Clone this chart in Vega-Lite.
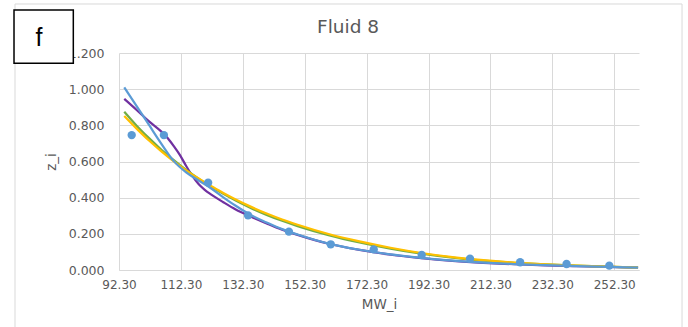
{
  "$schema": "https://vega.github.io/schema/vega-lite/v6.json",
  "width": 520,
  "height": 217,
  "autosize": {"type": "none"},
  "padding": {"left": 119, "top": 53, "right": 49, "bottom": 57},
  "background": "white",
  "config": {"view": {"stroke": null}, "font": "DejaVu Sans"},
  "title": {
    "text": "Fluid 8",
    "font": "DejaVu Sans",
    "fontSize": 18.5,
    "fontWeight": "normal",
    "color": "#595959",
    "anchor": "middle",
    "baseline": "alphabetic",
    "offset": -48,
    "dx": -31
  },
  "datasets": {
    "frame": [{"x": 58.7, "x2": 274.2, "y": 1.471, "y2": -0.4}],
    "curves": [
      {"s": "purple", "x": 94, "y": 0.946},
      {"s": "purple", "x": 98, "y": 0.885},
      {"s": "purple", "x": 102, "y": 0.822},
      {"s": "purple", "x": 106, "y": 0.765},
      {"s": "purple", "x": 108, "y": 0.73},
      {"s": "purple", "x": 110, "y": 0.685},
      {"s": "purple", "x": 112, "y": 0.635},
      {"s": "purple", "x": 114, "y": 0.575},
      {"s": "purple", "x": 116, "y": 0.52},
      {"s": "purple", "x": 118, "y": 0.475},
      {"s": "purple", "x": 120, "y": 0.443},
      {"s": "purple", "x": 122, "y": 0.418},
      {"s": "purple", "x": 126, "y": 0.375},
      {"s": "purple", "x": 130, "y": 0.335},
      {"s": "purple", "x": 135, "y": 0.295},
      {"s": "purple", "x": 140, "y": 0.258},
      {"s": "purple", "x": 145, "y": 0.223},
      {"s": "purple", "x": 150, "y": 0.194},
      {"s": "purple", "x": 160, "y": 0.145},
      {"s": "purple", "x": 170, "y": 0.111},
      {"s": "purple", "x": 180, "y": 0.085},
      {"s": "purple", "x": 190, "y": 0.066},
      {"s": "purple", "x": 200, "y": 0.051},
      {"s": "purple", "x": 210, "y": 0.04},
      {"s": "purple", "x": 220, "y": 0.032},
      {"s": "purple", "x": 230, "y": 0.026},
      {"s": "purple", "x": 240, "y": 0.021},
      {"s": "purple", "x": 250, "y": 0.017},
      {"s": "purple", "x": 260, "y": 0.013},
      {"s": "green", "x": 94, "y": 0.875},
      {"s": "green", "x": 98, "y": 0.798},
      {"s": "green", "x": 102, "y": 0.729},
      {"s": "green", "x": 106, "y": 0.665},
      {"s": "green", "x": 110, "y": 0.607},
      {"s": "green", "x": 114, "y": 0.553},
      {"s": "green", "x": 118, "y": 0.505},
      {"s": "green", "x": 122, "y": 0.461},
      {"s": "green", "x": 126, "y": 0.421},
      {"s": "green", "x": 130, "y": 0.384},
      {"s": "green", "x": 135, "y": 0.342},
      {"s": "green", "x": 140, "y": 0.305},
      {"s": "green", "x": 145, "y": 0.272},
      {"s": "green", "x": 150, "y": 0.243},
      {"s": "green", "x": 160, "y": 0.193},
      {"s": "green", "x": 170, "y": 0.152},
      {"s": "green", "x": 180, "y": 0.118},
      {"s": "green", "x": 190, "y": 0.09},
      {"s": "green", "x": 200, "y": 0.068},
      {"s": "green", "x": 210, "y": 0.052},
      {"s": "green", "x": 220, "y": 0.04},
      {"s": "green", "x": 230, "y": 0.031},
      {"s": "green", "x": 240, "y": 0.024},
      {"s": "green", "x": 250, "y": 0.018},
      {"s": "green", "x": 260, "y": 0.013},
      {"s": "yellow", "x": 94, "y": 0.852},
      {"s": "yellow", "x": 98, "y": 0.782},
      {"s": "yellow", "x": 102, "y": 0.716},
      {"s": "yellow", "x": 106, "y": 0.656},
      {"s": "yellow", "x": 110, "y": 0.601},
      {"s": "yellow", "x": 114, "y": 0.551},
      {"s": "yellow", "x": 118, "y": 0.506},
      {"s": "yellow", "x": 122, "y": 0.464},
      {"s": "yellow", "x": 126, "y": 0.426},
      {"s": "yellow", "x": 130, "y": 0.39},
      {"s": "yellow", "x": 135, "y": 0.349},
      {"s": "yellow", "x": 140, "y": 0.312},
      {"s": "yellow", "x": 145, "y": 0.279},
      {"s": "yellow", "x": 150, "y": 0.25},
      {"s": "yellow", "x": 160, "y": 0.199},
      {"s": "yellow", "x": 170, "y": 0.158},
      {"s": "yellow", "x": 180, "y": 0.123},
      {"s": "yellow", "x": 190, "y": 0.094},
      {"s": "yellow", "x": 200, "y": 0.071},
      {"s": "yellow", "x": 210, "y": 0.054},
      {"s": "yellow", "x": 220, "y": 0.041},
      {"s": "yellow", "x": 230, "y": 0.031},
      {"s": "yellow", "x": 240, "y": 0.024},
      {"s": "yellow", "x": 250, "y": 0.018},
      {"s": "yellow", "x": 260, "y": 0.013},
      {"s": "blue", "x": 94, "y": 1.01},
      {"s": "blue", "x": 98, "y": 0.906},
      {"s": "blue", "x": 102, "y": 0.802},
      {"s": "blue", "x": 106, "y": 0.698},
      {"s": "blue", "x": 110, "y": 0.602},
      {"s": "blue", "x": 114, "y": 0.54},
      {"s": "blue", "x": 118, "y": 0.495},
      {"s": "blue", "x": 122, "y": 0.452},
      {"s": "blue", "x": 126, "y": 0.402},
      {"s": "blue", "x": 130, "y": 0.355},
      {"s": "blue", "x": 135, "y": 0.303},
      {"s": "blue", "x": 140, "y": 0.263},
      {"s": "blue", "x": 145, "y": 0.226},
      {"s": "blue", "x": 150, "y": 0.196},
      {"s": "blue", "x": 160, "y": 0.146},
      {"s": "blue", "x": 170, "y": 0.112},
      {"s": "blue", "x": 180, "y": 0.086},
      {"s": "blue", "x": 190, "y": 0.067},
      {"s": "blue", "x": 200, "y": 0.052},
      {"s": "blue", "x": 210, "y": 0.041},
      {"s": "blue", "x": 220, "y": 0.033},
      {"s": "blue", "x": 230, "y": 0.027},
      {"s": "blue", "x": 240, "y": 0.022},
      {"s": "blue", "x": 250, "y": 0.017},
      {"s": "blue", "x": 260, "y": 0.013}
    ],
    "points": [
      {"x": 96.4, "y": 0.746},
      {"x": 106.8, "y": 0.746},
      {"x": 121.1, "y": 0.483},
      {"x": 134.0, "y": 0.302},
      {"x": 147.2, "y": 0.212},
      {"x": 160.7, "y": 0.142},
      {"x": 174.6, "y": 0.114},
      {"x": 190.1, "y": 0.083},
      {"x": 205.7, "y": 0.063},
      {"x": 221.9, "y": 0.043},
      {"x": 236.9, "y": 0.033},
      {"x": 250.7, "y": 0.024}
    ],
    "box": [{"x": 58.38, "x2": 77.54, "y": 1.143, "y2": 1.438, "label": "f", "lx": 66.45, "ly": 1.283}]
  },
  "encoding": {
    "x": {
      "field": "x",
      "type": "quantitative",
      "scale": {"domain": [92.3, 260.3], "nice": false, "zero": false},
      "axis": {
        "values": [92.3, 112.3, 132.3, 152.3, 172.3, 192.3, 212.3, 232.3, 252.3],
        "format": ".2f",
        "ticks": false,
        "labelFlush": false,
        "labelOverlap": false,
        "domainColor": "#D9D9D9",
        "gridColor": "#D9D9D9",
        "labelColor": "#595959",
        "labelFont": "DejaVu Sans",
        "labelFontSize": 12,
        "labelPadding": 9,
        "title": "MW_i",
        "titleFont": "DejaVu Sans",
        "titleFontSize": 13.5,
        "titleFontWeight": "normal",
        "titleColor": "#595959",
        "titlePadding": 7
      }
    },
    "y": {
      "field": "y",
      "type": "quantitative",
      "scale": {"domain": [0, 1.2], "nice": false, "zero": true},
      "axis": {
        "values": [0, 0.2, 0.4, 0.6, 0.8, 1.0, 1.2],
        "format": ".3f",
        "ticks": false,
        "labelFlush": false,
        "domain": false,
        "gridColor": "#D9D9D9",
        "labelColor": "#595959",
        "labelFont": "DejaVu Sans",
        "labelFontSize": 12.5,
        "labelPadding": 15,
        "title": "z_i",
        "titleFont": "DejaVu Sans",
        "titleFontSize": 13.5,
        "titleFontWeight": "normal",
        "titleColor": "#595959",
        "titlePadding": 10
      }
    }
  },
  "layer": [
    {
      "data": {"name": "frame"},
      "mark": {"type": "rect", "filled": false, "stroke": "#D9D9D9", "strokeWidth": 1, "clip": false},
      "encoding": {"x2": {"field": "x2"}, "y2": {"field": "y2"}}
    },
    {
      "data": {"name": "curves"},
      "mark": {"type": "line", "strokeWidth": 2.25, "interpolate": "monotone", "clip": false},
      "encoding": {
        "color": {
          "field": "s",
          "type": "nominal",
          "scale": {"domain": ["purple", "green", "yellow", "blue"], "range": ["#7030A0", "#70AD47", "#FFC000", "#5B9BD5"]},
          "legend": null
        },
        "order": {"field": "x", "type": "quantitative"}
      }
    },
    {
      "data": {"name": "points"},
      "mark": {"type": "circle", "size": 70, "color": "#5B9BD5", "opacity": 1}
    },
    {
      "data": {"name": "box"},
      "mark": {"type": "rect", "fill": "white", "stroke": "black", "strokeWidth": 1.5, "clip": false},
      "encoding": {"x2": {"field": "x2"}, "y2": {"field": "y2"}}
    },
    {
      "data": {"name": "box"},
      "mark": {"type": "text", "font": "Liberation Sans", "fontSize": 25, "color": "black", "align": "center", "baseline": "middle", "clip": false},
      "encoding": {
        "x": {"field": "lx", "type": "quantitative"},
        "y": {"field": "ly", "type": "quantitative"},
        "text": {"field": "label"}
      }
    }
  ]
}
